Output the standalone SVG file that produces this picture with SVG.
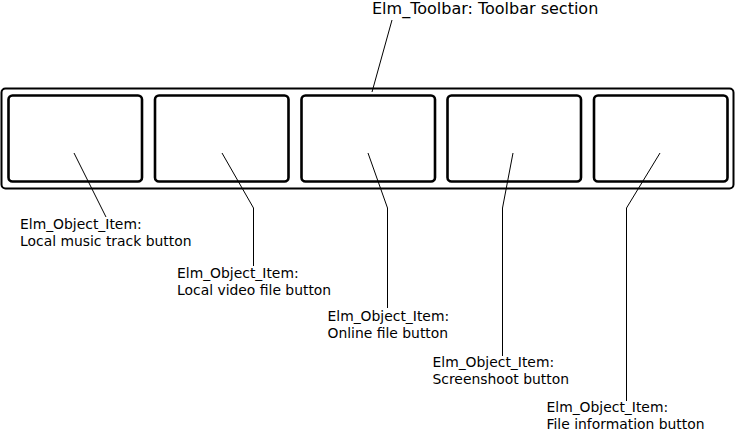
<svg xmlns="http://www.w3.org/2000/svg" width="735" height="430" viewBox="0 0 735 430">
<style>
  .outer { fill: #fff; stroke: #000; stroke-width: 2; }
  .btn { fill: #fff; stroke: #000; stroke-width: 2.6; }
  .conn { fill: none; stroke: #000; stroke-width: 1; }
  text { font-family: "DejaVu Sans", sans-serif; font-size: 13.9px; fill: #000; }
  .title { font-size: 16px; }
</style>
<rect width="735" height="430" fill="#fff"/>
<g id="toolbar">
  <rect class="outer" x="1.5" y="88.5" width="732" height="100" rx="4"/>
</g>
<g id="btn1"><rect class="btn" x="8.5" y="95.5" width="133.5" height="86" rx="4"/></g>
<g id="btn2"><rect class="btn" x="155" y="95.5" width="133.5" height="86" rx="4"/></g>
<g id="btn3"><rect class="btn" x="301.5" y="95.5" width="133.5" height="86" rx="4"/></g>
<g id="btn4"><rect class="btn" x="447.5" y="95.5" width="133.5" height="86" rx="4"/></g>
<g id="btn5"><rect class="btn" x="594" y="95.5" width="133.5" height="86" rx="4"/></g>
<g id="connectors">
  <path class="conn" d="M392,20 L372,92"/>
  <path class="conn" d="M74,153 L106,217"/>
  <path class="conn" d="M222,153 L253.5,208 L253.5,266"/>
  <path class="conn" d="M368,153 L387.5,208 L387.5,308"/>
  <path class="conn" d="M513,153 L502.5,208 L502.5,356"/>
  <path class="conn" d="M660,153 L626.5,208 L626.5,401"/>
</g>
<g id="labels">
  <text class="title" x="372" y="13.5">Elm_Toolbar: Toolbar section</text>
  <text x="20" y="229">Elm_Object_Item:</text>
  <text x="20" y="246">Local music track button</text>
  <text x="177" y="278">Elm_Object_Item:</text>
  <text x="177" y="295">Local video file button</text>
  <text x="327.5" y="320.5">Elm_Object_Item:</text>
  <text x="327.5" y="337.5">Online file button</text>
  <text x="432.5" y="366.5">Elm_Object_Item:</text>
  <text x="432.5" y="383.5">Screenshoot button</text>
  <text x="546.5" y="411.5">Elm_Object_Item:</text>
  <text x="546.5" y="428.5">File information button</text>
</g>
</svg>
